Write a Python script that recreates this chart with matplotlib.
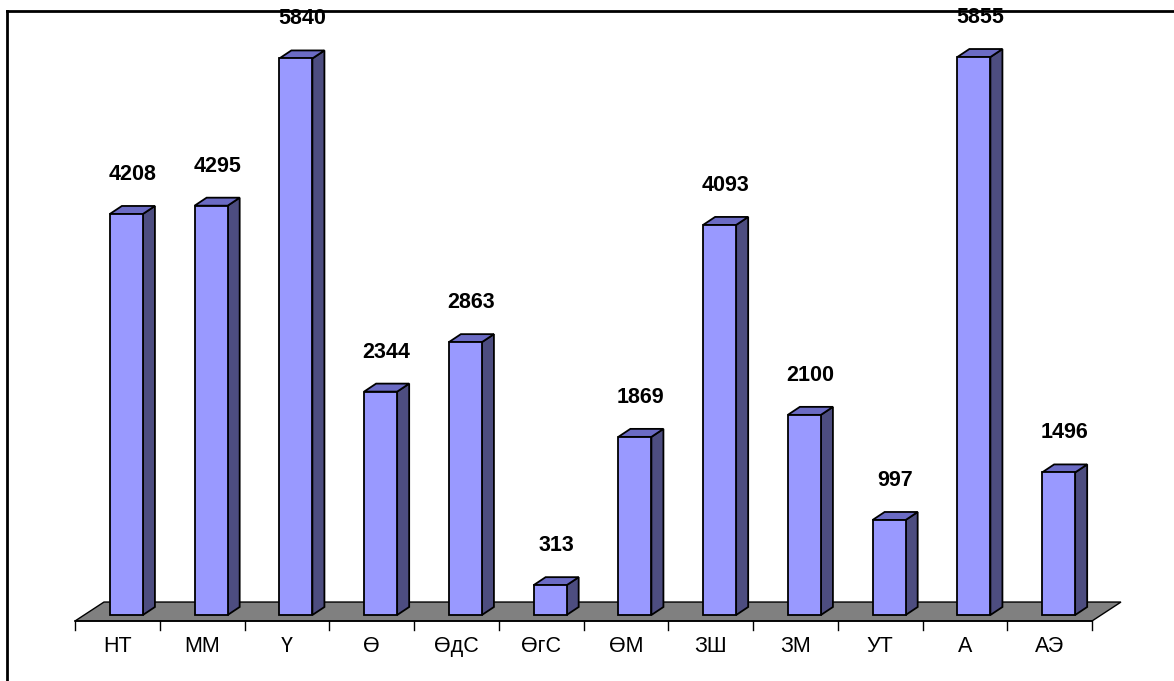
import matplotlib
matplotlib.use("Agg")
import matplotlib.pyplot as plt
from matplotlib.patches import Polygon, Rectangle
from matplotlib.lines import Line2D

plt.rcParams['font.family'] = ['Liberation Sans', 'DejaVu Sans']

categories = ['НТ', 'ММ', 'Ү', 'Ө', 'ӨдС', 'ӨгС', 'ӨМ', 'ЗШ', 'ЗМ', 'УТ', 'А', 'АЭ']
values = [4208, 4295, 5840, 2344, 2863, 313, 1869, 4093, 2100, 997, 5855, 1496]

# styling / geometry
W_PX, H_PX = 1174, 681
front_c = '#9999FF'
side_c = '#4D4D80'
top_c = '#6B6BC4'
floor_c = '#808080'
bar_w = 0.39
bar_shift = 0.106
ddx = 0.142      # depth in category units
ddy = 84         # depth in value units
floor_front = -63
floor_back = 136
floor_dx = 0.342

fig = plt.figure(figsize=(W_PX / 100, H_PX / 100), dpi=100)
ax = fig.add_axes([0, 0, 1, 1])
ax.set_xlim(-0.5 - 75 / 84.75, (W_PX - 75) / 84.75 - 0.5)
ax.set_ylim(-(H_PX - 615) / 0.0953, 615 / 0.0953)
ax.axis('off')

n = len(categories)
# floor
x0, x1 = -0.5, n - 0.5
floor = Polygon([(x0, floor_front), (x1, floor_front), (x1 + floor_dx, floor_back),
                 (x0 + floor_dx, floor_back)], closed=True, facecolor=floor_c,
                edgecolor='black', linewidth=1.0, zorder=1)
ax.add_patch(floor)
ax.plot([x0, x1], [floor_front, floor_front], color='black', lw=1.2, zorder=2)
for k in range(n + 1):
    xt = -0.5 + k
    ax.plot([xt, xt], [floor_front, floor_front - 95], color='black', lw=1.0, zorder=2)

for i, (cat, v) in enumerate(zip(categories, values)):
    xl = i + bar_shift - bar_w / 2
    xr = xl + bar_w
    side = Polygon([(xr, 0), (xr + ddx, ddy), (xr + ddx, v + ddy), (xr, v)], closed=True,
                   facecolor=side_c, edgecolor='black', linewidth=1.3, zorder=3)
    top = Polygon([(xl, v), (xr, v), (xr + ddx, v + ddy), (xl + ddx, v + ddy)], closed=True,
                  facecolor=top_c, edgecolor='black', linewidth=1.3, zorder=3)
    front = Rectangle((xl, 0), bar_w, v, facecolor=front_c, edgecolor='black',
                      linewidth=1.3, zorder=4)
    ax.add_patch(side)
    ax.add_patch(top)
    ax.add_patch(front)
    ax.annotate(f'{v}', xy=(i + bar_shift + ddx / 2, v), xytext=(0, 28.5),
                textcoords='offset points', ha='center', va='center',
                fontsize=15.5, fontweight='bold', zorder=5)
    ax.annotate(cat, xy=(i, floor_front), xytext=(0, -18), textcoords='offset points',
                ha='center', va='center', fontsize=15.5, zorder=5)

# outer border (top and left)
fig.add_artist(Line2D([7 / W_PX, 1.0], [1 - 11 / H_PX, 1 - 11 / H_PX],
                      transform=fig.transFigure, color='black', lw=2))
fig.add_artist(Line2D([7 / W_PX, 7 / W_PX], [0, 1 - 11 / H_PX],
                      transform=fig.transFigure, color='black', lw=2))

fig.savefig('out.png', dpi=100)
